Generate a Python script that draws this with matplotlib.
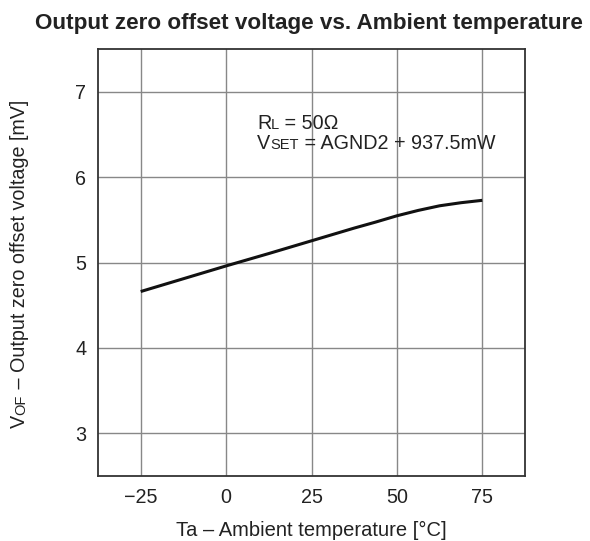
import matplotlib
matplotlib.use('Agg')
import matplotlib.pyplot as plt

plt.rcParams['font.family'] = ['Liberation Sans', 'DejaVu Sans']

# 데이터
temp = [-25, -12.5, 0, 12.5, 25, 37.5, 43.75, 50, 56.25, 62.5, 68.75, 75]
vof = [4.66, 4.81, 4.96, 5.105, 5.254, 5.403, 5.473, 5.547, 5.61, 5.664, 5.70, 5.728]

x_ticks = [-25, 0, 25, 50, 75]
x_tick_labels = ['\u221225', '0', '25', '50', '75']
y_ticks = [3, 4, 5, 6, 7]

fig = plt.figure(figsize=(5.9, 5.41), dpi=100)
ax = fig.add_axes([98 / 590, 1 - 476 / 541, 427 / 590, 427 / 541])

ax.plot(temp, vof, color='#111111', lw=2.2, solid_capstyle='butt', solid_joinstyle='round')

ax.set_xlim(-37.5, 87.5)
ax.set_ylim(2.5, 7.5)
ax.set_xticks(x_ticks)
ax.set_xticklabels(x_tick_labels)
ax.set_yticks(y_ticks)
ax.tick_params(length=0, labelsize=14.2, pad=8.5, colors='#222222')
ax.grid(True, color='#888888', lw=1.0)
ax.set_axisbelow(True)
for s in ax.spines.values():
    s.set_color('#333333')
    s.set_linewidth(1.3)

ax.set_xlabel('Ta \u2013 Ambient temperature [\u00b0C]', fontsize=14.5, labelpad=10.5, color='#222222')
fig.text(309 / 590, 1 - 29 / 541, 'Output zero offset voltage vs. Ambient temperature',
         fontsize=16.2, fontweight='bold', ha='center', va='baseline', color='#222222')

renderer = fig.canvas.get_renderer()


# 작은 대문자 섞인 텍스트 (픽셀 좌표)
def runs(x, y, parts, rot=0):
    for txt, size in parts:
        t = fig.text(x, y, txt, fontsize=size, transform=None, rotation=rot,
                     rotation_mode='anchor', ha='left', va='baseline', color='#222222')
        bb = t.get_window_extent(renderer)
        if rot == 0:
            x += bb.width
        else:
            y += bb.height


runs(257, 541 - 129, [('R', 14.2), ('L', 10.5), (' = 50\u03a9', 14.2)])
runs(257, 541 - 149, [('V', 14.2), ('SET', 10.5), (' = AGND2 + 937.5mW', 14.2)])
runs(25, 541 - 428, [('V', 14.2), ('OF', 10.5), (' \u2013 Output zero offset voltage [mV]', 14.2)], rot=90)

fig.savefig('out.png', dpi=100)
